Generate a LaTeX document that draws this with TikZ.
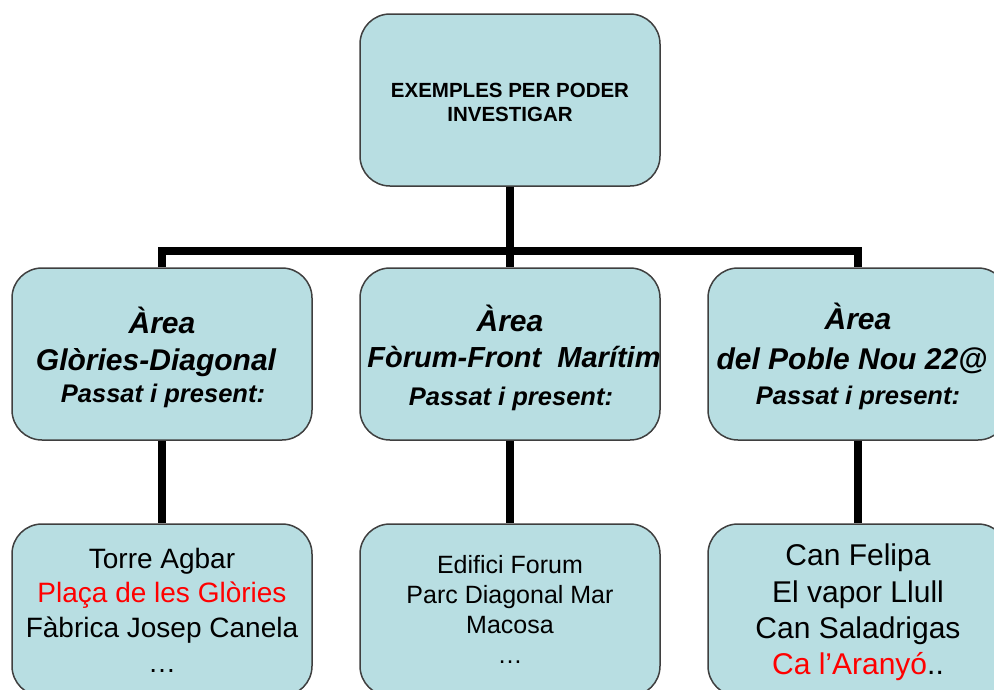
\documentclass[tikz,border=0pt]{standalone}
\usepackage{fontspec}
\setmainfont{Liberation Sans}
\usetikzlibrary{backgrounds}
\definecolor{boxfill}{HTML}{B8DEE2}
\definecolor{boxline}{HTML}{3F3F3F}
\definecolor{redtxt}{HTML}{FF0000}
\begin{document}
\begin{tikzpicture}[x=1pt,y=-1pt,
  box/.style={draw=boxline, fill=boxfill, line width=1.5pt, rounded corners=30pt,
    minimum width=300pt, minimum height=172pt, inner sep=0pt},
  conn/.style={line width=8pt, line join=miter, draw=black},
  lbl/.style={anchor=base, inner sep=0pt},
  ttl/.style={lbl, font=\fontsize{20.5}{24}\selectfont\bfseries},
  hd/.style={lbl, font=\fontsize{30}{34}\selectfont\bfseries\itshape},
  hdm/.style={lbl, font=\fontsize{29}{34}\selectfont\bfseries\itshape},
  ps/.style={lbl, font=\fontsize{25.5}{28}\selectfont\bfseries\itshape},
  bl/.style={lbl, font=\fontsize{28}{34}\selectfont},
  bm/.style={lbl, font=\fontsize{25}{30}\selectfont},
  br/.style={lbl, font=\fontsize{30}{36}\selectfont}]
\useasboundingbox (0,0) rectangle (994,689);
\clip (0,0) rectangle (994,689);
% boxes
\node[box] (top) at (510,100) {};
\node[box] (ga) at (162,354) {};
\node[box] (fa) at (510,354) {};
\node[box] (pa) at (858,354) {};
\node[box] (gb) at (162,610) {};
\node[box] (fb) at (510,610) {};
\node[box] (pb) at (858,610) {};
% connectors
\begin{scope}[on background layer]
\coordinate (bar) at (510,251);
\draw[conn] (top.south) -- (fa.north);
\draw[conn] (ga.north) |- (bar) -| (pa.north);
\draw[conn] (ga.south) -- (gb.north);
\draw[conn] (fa.south) -- (fb.north);
\draw[conn] (pa.south) -- (pb.north);
\end{scope}
% top text
\node[ttl] (t1) at (510,97) {EXEMPLES PER PODER};
\node[ttl] (t2) at (510,121) {INVESTIGAR};
% middle row text
\node[hd] (g1) at (162,333) {Àrea};
\node[hd] (g2) at (156,370) {Glòries-Diagonal};
\node[ps] (g3) at (163,402) {Passat i present:};
\node[hd] (f1) at (510,331) {Àrea};
\node[hdm] (f2) at (514,367) {Fòrum-Front \ Marítim};
\node[ps] (f3) at (511,405) {Passat i present:};
\node[hd] (p1) at (858,329) {Àrea};
\node[hd] (p2) at (852,369) {del Poble Nou 22@};
\node[ps] (p3) at (858,404) {Passat i present:};
% bottom row text
\node[bl] (gb1) at (162,568) {Torre Agbar};
\node[bl, text=redtxt] (gb2) at (162,602) {Plaça de les Glòries};
\node[bl] (gb3) at (162,637) {Fàbrica Josep Canela};
\node[bl] (gb4) at (162,672) {…};
\node[bm] (fb1) at (510,573) {Edifici Forum};
\node[bm] (fb2) at (510,603) {Parc Diagonal Mar};
\node[bm] (fb3) at (510,633) {Macosa};
\node[bm] (fb4) at (510,663) {…};
\node[br] (pb1) at (858,565) {Can Felipa};
\node[br] (pb2) at (858,602) {El vapor Llull};
\node[br] (pb3) at (858,638) {Can Saladrigas};
\node[br] (pb4) at (858,674) {\textcolor{redtxt}{Ca l’Aranyó}..};
\end{tikzpicture}
\end{document}
